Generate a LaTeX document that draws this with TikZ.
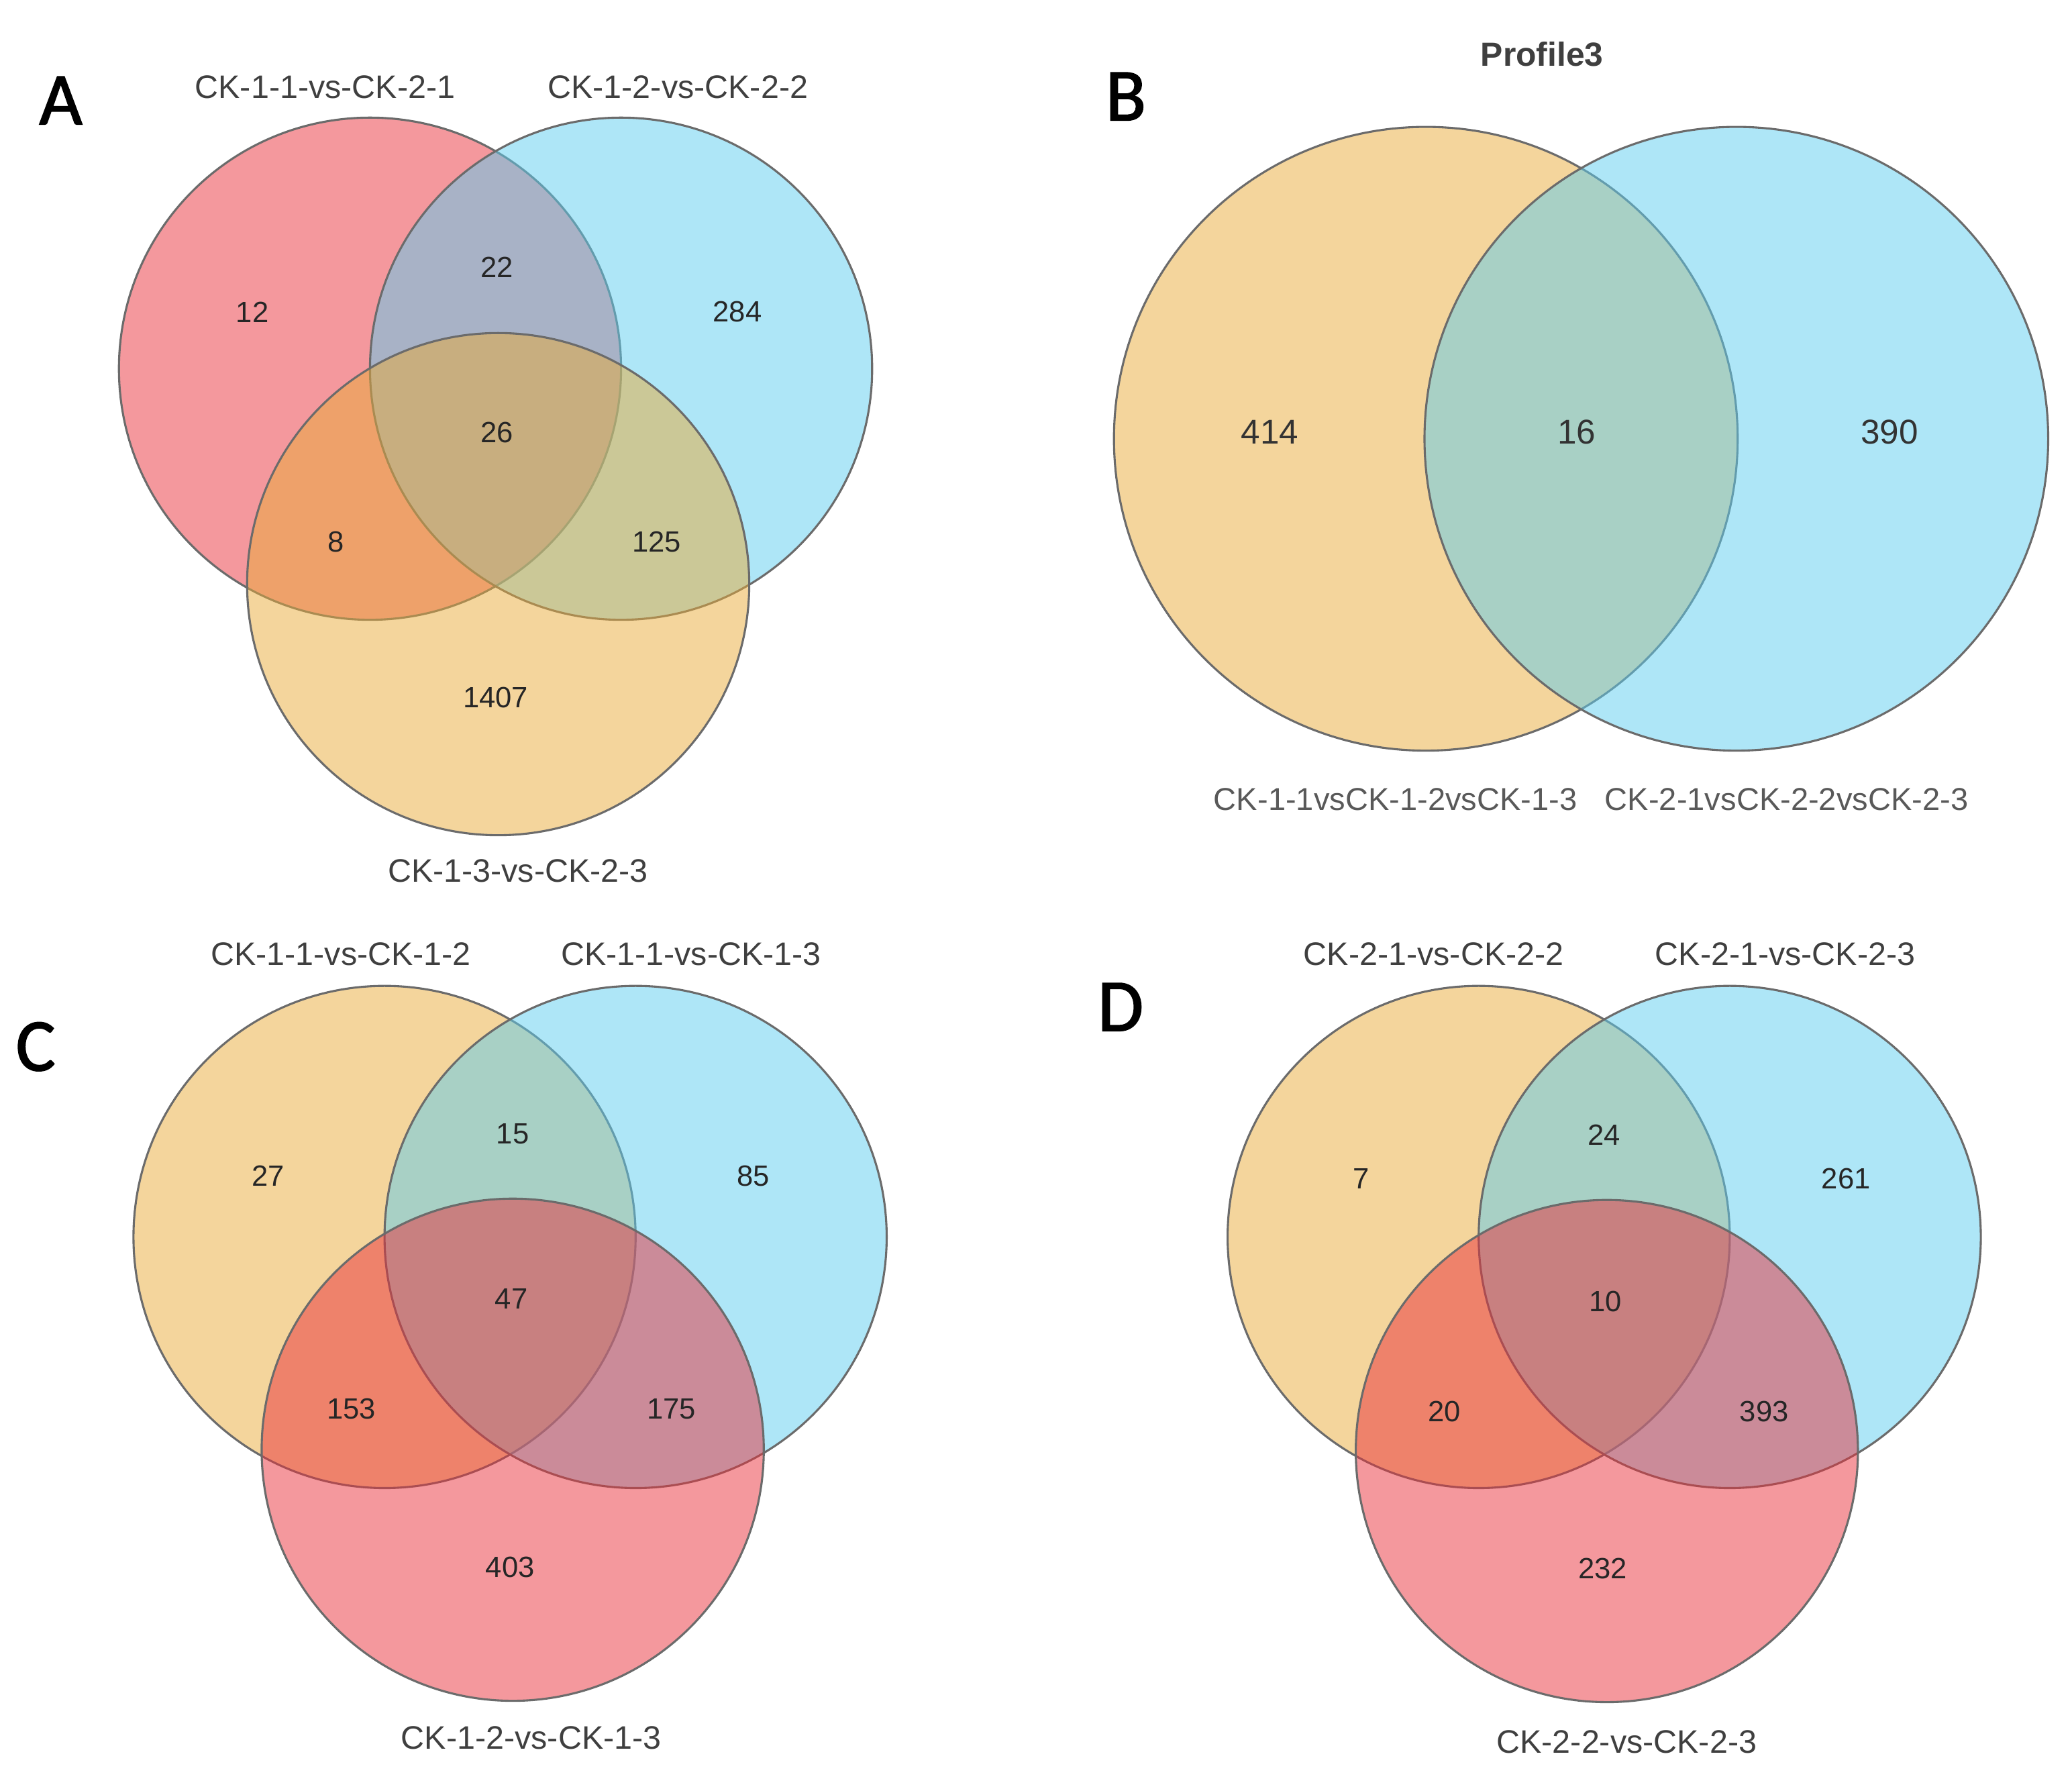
\documentclass[tikz,border=0pt]{standalone}
\usepackage{fontspec}
\setmainfont{Liberation Sans}
\newfontfamily\panelfont[FakeBold=1.6]{Carlito}
\definecolor{vred}{HTML}{E9313B}
\definecolor{vblue}{HTML}{5DCDEF}
\definecolor{vorange}{HTML}{E9AB39}
\definecolor{vline}{HTML}{6B6B6B}
\definecolor{vtext}{HTML}{3F3F3F}
\begin{document}
\begin{tikzpicture}[x=0.1mm,y=-0.1mm,
    venn/.style={fill=#1, fill opacity=0.5, draw=vline, line width=0.45pt},
    setlabel/.style={text=vtext, font=\fontsize{7}{8}\selectfont, inner sep=0pt},
    count/.style={text=black!85, font=\fontsize{6.3}{7}\selectfont, inner sep=0pt},
    bigcount/.style={text=black!80, font=\fontsize{7.4}{8}\selectfont, inner sep=0pt},
    panel/.style={font=\panelfont\fontsize{16}{18}\selectfont, inner sep=0pt}]
    \useasboundingbox (0,0) rectangle (1568,1355);

    % A
    \draw [venn=vred] (280,279) circle [radius=1.9cm];
    \draw [venn=vblue] (470,279) circle [radius=1.9cm];
    \draw [venn=vorange] (377,442) circle [radius=1.9cm];
    \node [panel] (pa) at (46,76) {A};
    \node [setlabel] (a1) at (246,66) {CK-1-1-vs-CK-2-1};
    \node [setlabel] (a2) at (513,66) {CK-1-2-vs-CK-2-2};
    \node [setlabel] (a3) at (392,659) {CK-1-3-vs-CK-2-3};
    \node [count] (a100) at (191,236) {12};
    \node [count] (a110) at (376,202) {22};
    \node [count] (a010) at (558,236) {284};
    \node [count] (a111) at (376,327) {26};
    \node [count] (a101) at (254,410) {8};
    \node [count] (a011) at (497,410) {125};
    \node [count] (a001) at (375,528) {1407};

    % B
    \draw [venn=vorange] (1079,332) circle [radius=2.36cm];
    \draw [venn=vblue] (1314,332) circle [radius=2.36cm];
    \node [panel] (pb) at (852,73) {B};
    \node [text=vtext, font=\bfseries\fontsize{7.2}{8}\selectfont, inner sep=0pt] (title) at (1167,41) {Profile3};
    \node [setlabel, text=black!65, font=\fontsize{6.8}{8}\selectfont] (b1) at (1056,605) {CK-1-1vsCK-1-2vsCK-1-3};
    \node [setlabel, text=black!65, font=\fontsize{6.8}{8}\selectfont] (b2) at (1352,605) {CK-2-1vsCK-2-2vsCK-2-3};
    \node [bigcount] (b10) at (961,327) {414};
    \node [bigcount] (b11) at (1193,327) {16};
    \node [bigcount] (b01) at (1430,327) {390};

    % C
    \draw [venn=vorange] (291,936) circle [radius=1.9cm];
    \draw [venn=vblue] (481,936) circle [radius=1.9cm];
    \draw [venn=vred] (388,1097) circle [radius=1.9cm];
    \node [panel] (pc) at (27,792) {C};
    \node [setlabel] (c1) at (258,722) {CK-1-1-vs-CK-1-2};
    \node [setlabel] (c2) at (523,722) {CK-1-1-vs-CK-1-3};
    \node [setlabel] (c3) at (402,1315) {CK-1-2-vs-CK-1-3};
    \node [count] (c100) at (203,890) {27};
    \node [count] (c110) at (388,858) {15};
    \node [count] (c010) at (570,890) {85};
    \node [count] (c111) at (387,983) {47};
    \node [count] (c101) at (266,1066) {153};
    \node [count] (c011) at (508,1066) {175};
    \node [count] (c001) at (386,1186) {403};

    % D
    \draw [venn=vorange] (1119,936) circle [radius=1.9cm];
    \draw [venn=vblue] (1309,936) circle [radius=1.9cm];
    \draw [venn=vred] (1216,1098) circle [radius=1.9cm];
    \node [panel] (pd) at (848,762) {D};
    \node [setlabel] (d1) at (1085,722) {CK-2-1-vs-CK-2-2};
    \node [setlabel] (d2) at (1351,722) {CK-2-1-vs-CK-2-3};
    \node [setlabel] (d3) at (1231,1318) {CK-2-2-vs-CK-2-3};
    \node [count] (d100) at (1030,892) {7};
    \node [count] (d110) at (1214,859) {24};
    \node [count] (d010) at (1397,892) {261};
    \node [count] (d111) at (1215,985) {10};
    \node [count] (d101) at (1093,1068) {20};
    \node [count] (d011) at (1335,1068) {393};
    \node [count] (d001) at (1213,1187) {232};
\end{tikzpicture}
\end{document}
